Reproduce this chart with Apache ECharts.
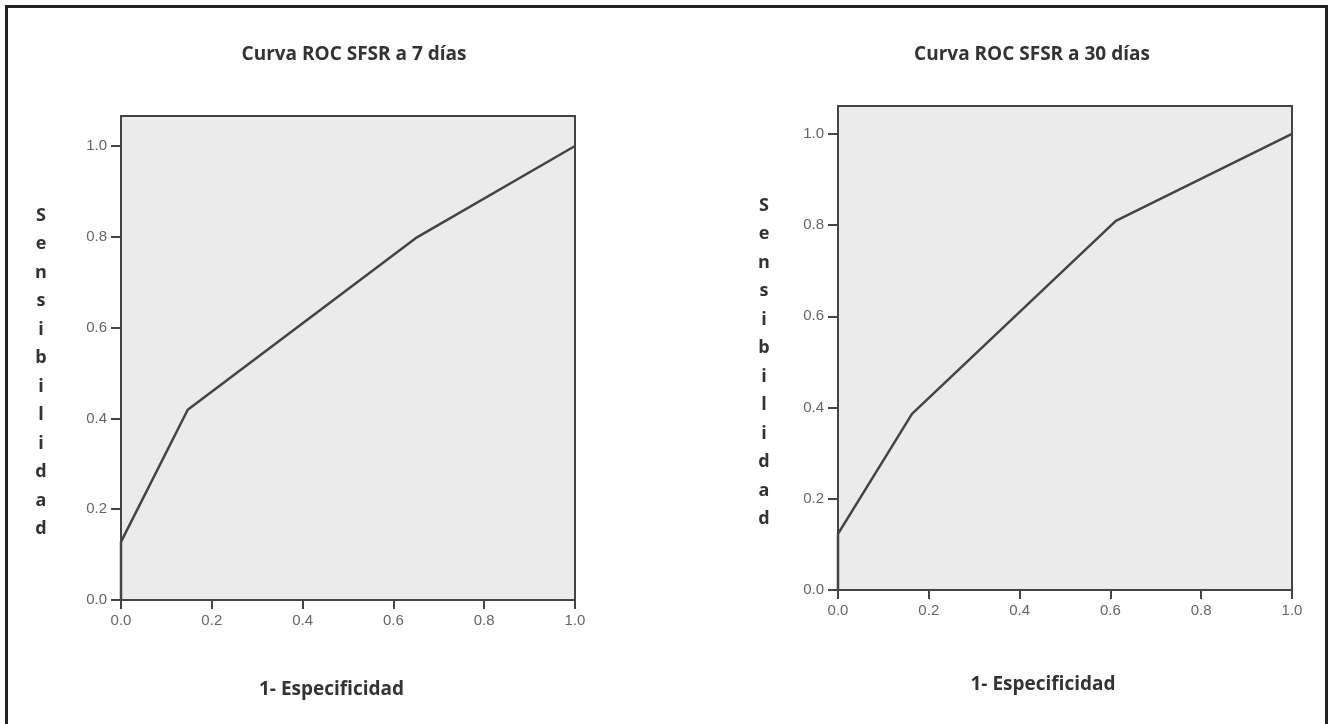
<!DOCTYPE html>
<html>
<head>
<meta charset="utf-8">
<title>Curvas ROC SFSR</title>
<script src="https://cdn.jsdelivr.net/npm/echarts@6/dist/echarts.min.js"></script>
<style>
  html, body { margin: 0; padding: 0; background: #fff; }
  #frame {
    position: absolute; left: 5px; top: 5px; width: 1317px; height: 717px;
    border: 3px solid #222; border-bottom: none;
  }
  #chart { position: absolute; left: 0; top: 0; width: 1330px; height: 724px; }
</style>
</head>
<body>
<div id="frame"></div>
<div id="chart"></div>
<script>
// titulos y etiquetas
var titles = ['Curva ROC SFSR a 7 días', 'Curva ROC SFSR a 30 días']
var xName = '1- Especificidad'
var yName = 'Sensibilidad'
var tickValues = [0, 0.2, 0.4, 0.6, 0.8, 1.0]

// puntos de la curva: 1-especificidad / sensibilidad
var fpr7 = [0, 0, 0.147, 0.649, 1]
var tpr7 = [0, 0.128, 0.419, 0.797, 1]
var fpr30 = [0, 0, 0.163, 0.612, 1]
var tpr30 = [0, 0.123, 0.386, 0.809, 1]

function pairs(xs, ys) {
  return xs.map(function (x, i) { return [x, ys[i]] })
}

var labelStyle = { color: '#666', fontFamily: 'Liberation Sans', fontSize: 15 }
var nameFont = { color: '#333', fontFamily: 'Open Sans', fontWeight: 'bold' }

function makeX(grid, gap, padRight) {
  return {
    type: 'value', gridIndex: grid, min: 0, max: 1, interval: 0.2, z: 10,
    name: xName, nameLocation: 'middle', nameGap: gap,
    nameTextStyle: Object.assign({ fontSize: 19, padding: [0, padRight, 0, 0] }, nameFont),
    axisLine: { show: true, onZero: false, lineStyle: { color: '#444', width: 2 } },
    axisTick: { show: true, inside: false, length: 9, lineStyle: { color: '#444', width: 2 } },
    axisLabel: Object.assign({ margin: 13, formatter: function (v) { return v.toFixed(1) } }, labelStyle),
    splitLine: { show: false }
  }
}

function makeY(grid, max, gap) {
  // letras apiladas, con una linea en blanco arriba para bajar el bloque
  return {
    type: 'value', gridIndex: grid, min: 0, max: max, z: 10,
    name: '\n' + yName.split('').join('\n'), nameLocation: 'middle', nameRotate: 0, nameGap: gap,
    nameTextStyle: Object.assign({ fontSize: 18, lineHeight: 28.5, align: 'center' }, nameFont),
    axisLine: { show: true, onZero: false, lineStyle: { color: '#444', width: 2 } },
    axisTick: { show: true, inside: false, length: 10, customValues: tickValues, lineStyle: { color: '#444', width: 2 } },
    axisLabel: Object.assign({ margin: 14, customValues: tickValues, formatter: function (v) { return v.toFixed(1) } }, labelStyle),
    splitLine: { show: false }
  }
}

var chart = echarts.init(document.getElementById('chart'))
var option = {
  animation: false,
  title: [
    { text: titles[0], left: 349, top: 40, textAlign: 'center',
      textStyle: { fontFamily: 'Open Sans', fontWeight: 'bold', fontSize: 19, color: '#333' } },
    { text: titles[1], left: 1027, top: 40, textAlign: 'center',
      textStyle: { fontFamily: 'Open Sans', fontWeight: 'bold', fontSize: 19, color: '#333' } }
  ],
  grid: [
    { left: 121, top: 116, width: 454, height: 484, show: true, backgroundColor: '#ebebec', borderColor: '#444', borderWidth: 2 },
    { left: 838, top: 106, width: 454, height: 484, show: true, backgroundColor: '#ebebec', borderColor: '#444', borderWidth: 2 }
  ],
  xAxis: [makeX(0, 80, 33), makeX(1, 85, 44)],
  yAxis: [makeY(0, 1.066, 80), makeY(1, 1.061, 74)],
  series: [
    {
      type: 'line', xAxisIndex: 0, yAxisIndex: 0, data: pairs(fpr7, tpr7),
      showSymbol: false, lineStyle: { color: '#444', width: 2.5 }
    },
    {
      type: 'line', xAxisIndex: 1, yAxisIndex: 1, data: pairs(fpr30, tpr30),
      showSymbol: false, lineStyle: { color: '#444', width: 2.5 }
    }
  ]
}
chart.setOption(option)
</script>
</body>
</html>
